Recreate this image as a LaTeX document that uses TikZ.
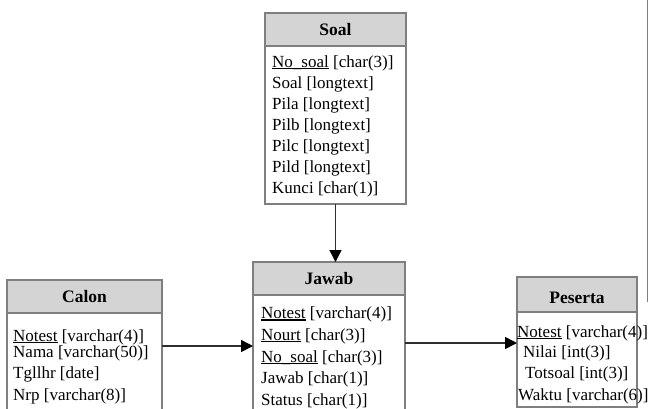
\documentclass[tikz,border=0pt]{standalone}
\usepackage{fontspec}
\setmainfont{Liberation Serif}
\usetikzlibrary{arrows.meta}
\definecolor{boxline}{HTML}{7F7F7F}
\definecolor{headfill}{HTML}{D4D4D4}
\definecolor{linkline}{HTML}{2E2E2E}
% key attribute: text with a heavy underline
\newcommand\keyf[1]{\setbox0\hbox{#1}\rlap{\rule[-2.3pt]{\wd0}{1.4pt}}\box0\relax}

\begin{document}
\begin{tikzpicture}[x=1pt,y=-1pt,
  entity/.style={draw=boxline, line width=1.4pt, fill=white, inner sep=0pt, outer sep=0pt, anchor=north west},
  header/.style={draw=boxline, line width=1.4pt, fill=headfill, inner sep=0pt, outer sep=0pt, anchor=north west},
  ttl/.style={font=\fontsize{17.5}{20}\selectfont\bfseries, inner sep=0pt, anchor=base},
  fld/.style={font=\fontsize{17}{20}\selectfont, inner sep=0pt, anchor=base west},
  link/.style={draw=linkline, line width=1.5pt, -{Triangle[length=12pt,width=12pt,color=black]}}
]
\clip (0,0) rectangle (650,408);
\useasboundingbox (0,0) rectangle (650,408);

% ---- Soal ----
\node[entity, minimum width=141pt, minimum height=191pt] (soal) at (265,13) {};
\node[header, minimum width=141pt, minimum height=33pt] (soalh) at (265,13) {};
\node[ttl] (soalt) at (335.5,35) {Soal};
\node[fld] (soal1) at (272,67)    {\keyf{No\_soal} [char(3)]};
\node[fld] (soal2) at (272,88.5)  {Soal [longtext]};
\node[fld] (soal3) at (272,109.5) {Pila [longtext]};
\node[fld] (soal4) at (272,130.5) {Pilb [longtext]};
\node[fld] (soal5) at (272,151.5) {Pilc [longtext]};
\node[fld] (soal6) at (272,172.5) {Pild [longtext]};
\node[fld] (soal7) at (272,193.5) {Kunci [char(1)]};

% ---- Jawab ----
\node[entity, minimum width=152pt, minimum height=170pt] (jawab) at (253,262) {};
\node[header, minimum width=152pt, minimum height=33pt] (jawabh) at (253,262) {};
\node[ttl] (jawabt) at (329,284) {Jawab};
\node[fld] (jawab1) at (261,318.5) {\keyf{Notest} [varchar(4)]};
\node[fld] (jawab2) at (261,340)   {\keyf{Nourt} [char(3)]};
\node[fld] (jawab3) at (261,362)   {\keyf{No\_soal} [char(3)]};
\node[fld] (jawab4) at (261,383.5) {Jawab [char(1)]};
\node[fld] (jawab5) at (261,405)   {Status [char(1)]};

% ---- Calon ----
\node[entity, minimum width=155pt, minimum height=150pt] (calon) at (7,280) {};
\node[header, minimum width=155pt, minimum height=33pt] (calonh) at (7,280) {};
\node[ttl] (calont) at (84.5,302) {Calon};
\node[fld] (calon1) at (13,341) {\keyf{Notest} [varchar(4)]};
\node[fld] (calon2) at (13,357) {Nama [varchar(50)]};
\node[fld] (calon3) at (13,378) {Tgllhr [date]};
\node[fld] (calon4) at (13,400) {Nrp [varchar(8)]};

% ---- Peserta ----
\node[entity, minimum width=120pt, minimum height=130pt] (peserta) at (517,277) {};
\node[header, minimum width=120pt, minimum height=35pt] (pesertah) at (517,277) {};
\node[ttl] (pesertat) at (577,303) {Peserta};
\node[fld] (peserta1) at (517,337) {\keyf{Notest} [varchar(4)]};
\node[fld] (peserta2) at (523,357) {Nilai [int(3)]};
\node[fld] (peserta3) at (525,378) {Totsoal [int(3)]};
\node[fld] (peserta4) at (518,400) {Waktu [varchar(6)]};

% ---- relationships ----
\coordinate (cj) at (0,346);
\coordinate (jp) at (0,343);
\draw[link] (soal.south) -- (soal.south |- jawab.north);
\draw[link] (calon.east |- cj) -- (jawab.west |- cj);
\draw[link] (jawab.east |- jp) -- (peserta.west |- jp);

% ---- frame edge at the right ----
\coordinate (edgetop) at (647.5,0);
\coordinate (edgebot) at (647.5,302);
\draw[boxline, line width=1.5pt] (edgetop) -- (edgebot);
\end{tikzpicture}
\end{document}
